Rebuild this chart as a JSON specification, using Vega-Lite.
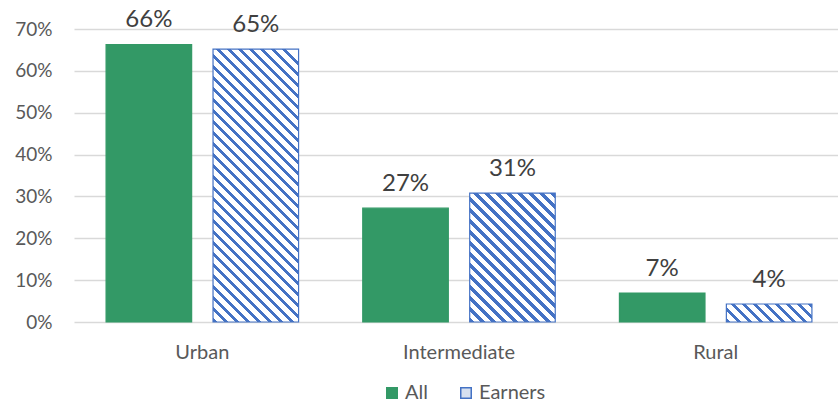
{
  "$schema": "https://vega.github.io/schema/vega-lite/v6.json",
  "width": 770,
  "height": 293,
  "autosize": {"type": "none"},
  "padding": {"left": 74, "top": 29, "right": 0, "bottom": 82},
  "config": {"view": {"stroke": null}, "font": "Lato"},
  "data": {
    "values": [
      {"region": "Urban", "series": "All", "value": 0.663},
      {"region": "Urban", "series": "Earners", "value": 0.652},
      {"region": "Intermediate", "series": "All", "value": 0.272},
      {"region": "Intermediate", "series": "Earners", "value": 0.308},
      {"region": "Rural", "series": "All", "value": 0.069},
      {"region": "Rural", "series": "Earners", "value": 0.043}
    ]
  },
  "encoding": {
    "x": {
      "field": "region", "type": "nominal",
      "scale": {"domain": ["Urban", "Intermediate", "Rural"], "paddingInner": 0.25, "paddingOuter": 0.125},
      "axis": {"title": null, "labelAngle": 0, "labelFont": "Lato", "labelFontSize": 20, "labelColor": "#595959", "labelPadding": 20, "ticks": false, "domain": false}
    },
    "xOffset": {
      "field": "series", "type": "nominal",
      "scale": {"domain": ["All", "Earners"], "paddingInner": 0.2, "paddingOuter": 0}
    },
    "y": {
      "field": "value", "type": "quantitative",
      "scale": {"domain": [0, 0.7], "nice": false, "zero": true},
      "axis": {"title": null, "format": ".0%", "values": [0, 0.1, 0.2, 0.3, 0.4, 0.5, 0.6, 0.7], "labelFont": "Lato", "labelFontSize": 19, "labelColor": "#595959", "labelPadding": 22, "ticks": false, "domain": false, "grid": true, "gridColor": "#d9d9d9", "gridWidth": 1.3}
    }
  },
  "layer": [
    {
      "mark": {"type": "bar", "strokeWidth": 1.2},
      "encoding": {
        "fill": {
          "field": "series", "type": "nominal",
          "scale": {"domain": ["All", "Earners"], "range": ["#339966", "#d6e0f0"]},
          "legend": {"orient": "none", "legendX": 308, "legendY": 354, "direction": "horizontal", "title": null, "symbolType": "square", "symbolSize": 110, "labelFont": "Lato", "labelFontSize": 20, "labelColor": "#595959", "columnPadding": 28, "labelOffset": 3},
          "condition": [
            {"test": "datum.series === 'Earners' && datum.region === 'Urban'", "value": {"gradient": "linear", "x1": 0, "y1": 1, "x2": 0.36817, "y2": -0.17444, "stops": [
              {"offset":0,"color":"#4472c4"},{"offset":0.013,"color":"#4472c4"},{"offset":0.013,"color":"#fff"},{"offset":0.03125,"color":"#fff"},
              {"offset":0.03125,"color":"#4472c4"},{"offset":0.04425,"color":"#4472c4"},{"offset":0.04425,"color":"#fff"},{"offset":0.0625,"color":"#fff"},
              {"offset":0.0625,"color":"#4472c4"},{"offset":0.0755,"color":"#4472c4"},{"offset":0.0755,"color":"#fff"},{"offset":0.09375,"color":"#fff"},
              {"offset":0.09375,"color":"#4472c4"},{"offset":0.10675,"color":"#4472c4"},{"offset":0.10675,"color":"#fff"},{"offset":0.125,"color":"#fff"},
              {"offset":0.125,"color":"#4472c4"},{"offset":0.138,"color":"#4472c4"},{"offset":0.138,"color":"#fff"},{"offset":0.15625,"color":"#fff"},
              {"offset":0.15625,"color":"#4472c4"},{"offset":0.16925,"color":"#4472c4"},{"offset":0.16925,"color":"#fff"},{"offset":0.1875,"color":"#fff"},
              {"offset":0.1875,"color":"#4472c4"},{"offset":0.2005,"color":"#4472c4"},{"offset":0.2005,"color":"#fff"},{"offset":0.21875,"color":"#fff"},
              {"offset":0.21875,"color":"#4472c4"},{"offset":0.23175,"color":"#4472c4"},{"offset":0.23175,"color":"#fff"},{"offset":0.25,"color":"#fff"},
              {"offset":0.25,"color":"#4472c4"},{"offset":0.263,"color":"#4472c4"},{"offset":0.263,"color":"#fff"},{"offset":0.28125,"color":"#fff"},
              {"offset":0.28125,"color":"#4472c4"},{"offset":0.29425,"color":"#4472c4"},{"offset":0.29425,"color":"#fff"},{"offset":0.3125,"color":"#fff"},
              {"offset":0.3125,"color":"#4472c4"},{"offset":0.3255,"color":"#4472c4"},{"offset":0.3255,"color":"#fff"},{"offset":0.34375,"color":"#fff"},
              {"offset":0.34375,"color":"#4472c4"},{"offset":0.35675,"color":"#4472c4"},{"offset":0.35675,"color":"#fff"},{"offset":0.375,"color":"#fff"},
              {"offset":0.375,"color":"#4472c4"},{"offset":0.388,"color":"#4472c4"},{"offset":0.388,"color":"#fff"},{"offset":0.40625,"color":"#fff"},
              {"offset":0.40625,"color":"#4472c4"},{"offset":0.41925,"color":"#4472c4"},{"offset":0.41925,"color":"#fff"},{"offset":0.4375,"color":"#fff"},
              {"offset":0.4375,"color":"#4472c4"},{"offset":0.4505,"color":"#4472c4"},{"offset":0.4505,"color":"#fff"},{"offset":0.46875,"color":"#fff"},
              {"offset":0.46875,"color":"#4472c4"},{"offset":0.48175,"color":"#4472c4"},{"offset":0.48175,"color":"#fff"},{"offset":0.5,"color":"#fff"},
              {"offset":0.5,"color":"#4472c4"},{"offset":0.513,"color":"#4472c4"},{"offset":0.513,"color":"#fff"},{"offset":0.53125,"color":"#fff"},
              {"offset":0.53125,"color":"#4472c4"},{"offset":0.54425,"color":"#4472c4"},{"offset":0.54425,"color":"#fff"},{"offset":0.5625,"color":"#fff"},
              {"offset":0.5625,"color":"#4472c4"},{"offset":0.5755,"color":"#4472c4"},{"offset":0.5755,"color":"#fff"},{"offset":0.59375,"color":"#fff"},
              {"offset":0.59375,"color":"#4472c4"},{"offset":0.60675,"color":"#4472c4"},{"offset":0.60675,"color":"#fff"},{"offset":0.625,"color":"#fff"},
              {"offset":0.625,"color":"#4472c4"},{"offset":0.638,"color":"#4472c4"},{"offset":0.638,"color":"#fff"},{"offset":0.65625,"color":"#fff"},
              {"offset":0.65625,"color":"#4472c4"},{"offset":0.66925,"color":"#4472c4"},{"offset":0.66925,"color":"#fff"},{"offset":0.6875,"color":"#fff"},
              {"offset":0.6875,"color":"#4472c4"},{"offset":0.7005,"color":"#4472c4"},{"offset":0.7005,"color":"#fff"},{"offset":0.71875,"color":"#fff"},
              {"offset":0.71875,"color":"#4472c4"},{"offset":0.73175,"color":"#4472c4"},{"offset":0.73175,"color":"#fff"},{"offset":0.75,"color":"#fff"},
              {"offset":0.75,"color":"#4472c4"},{"offset":0.763,"color":"#4472c4"},{"offset":0.763,"color":"#fff"},{"offset":0.78125,"color":"#fff"},
              {"offset":0.78125,"color":"#4472c4"},{"offset":0.79425,"color":"#4472c4"},{"offset":0.79425,"color":"#fff"},{"offset":0.8125,"color":"#fff"},
              {"offset":0.8125,"color":"#4472c4"},{"offset":0.8255,"color":"#4472c4"},{"offset":0.8255,"color":"#fff"},{"offset":0.84375,"color":"#fff"},
              {"offset":0.84375,"color":"#4472c4"},{"offset":0.85675,"color":"#4472c4"},{"offset":0.85675,"color":"#fff"},{"offset":0.875,"color":"#fff"},
              {"offset":0.875,"color":"#4472c4"},{"offset":0.888,"color":"#4472c4"},{"offset":0.888,"color":"#fff"},{"offset":0.90625,"color":"#fff"},
              {"offset":0.90625,"color":"#4472c4"},{"offset":0.91925,"color":"#4472c4"},{"offset":0.91925,"color":"#fff"},{"offset":0.9375,"color":"#fff"},
              {"offset":0.9375,"color":"#4472c4"},{"offset":0.9505,"color":"#4472c4"},{"offset":0.9505,"color":"#fff"},{"offset":0.96875,"color":"#fff"},
              {"offset":0.96875,"color":"#4472c4"},{"offset":0.98175,"color":"#4472c4"},{"offset":0.98175,"color":"#fff"},{"offset":1,"color":"#fff"}
            ]}},
            {"test": "datum.series === 'Earners' && datum.region === 'Intermediate'", "value": {"gradient": "linear", "x1": 0, "y1": 1, "x2": 1.2582, "y2": -0.89575, "stops": [
              {"offset":0,"color":"#4472c4"},{"offset":0.013,"color":"#4472c4"},{"offset":0.013,"color":"#fff"},{"offset":0.03125,"color":"#fff"},
              {"offset":0.03125,"color":"#4472c4"},{"offset":0.04425,"color":"#4472c4"},{"offset":0.04425,"color":"#fff"},{"offset":0.0625,"color":"#fff"},
              {"offset":0.0625,"color":"#4472c4"},{"offset":0.0755,"color":"#4472c4"},{"offset":0.0755,"color":"#fff"},{"offset":0.09375,"color":"#fff"},
              {"offset":0.09375,"color":"#4472c4"},{"offset":0.10675,"color":"#4472c4"},{"offset":0.10675,"color":"#fff"},{"offset":0.125,"color":"#fff"},
              {"offset":0.125,"color":"#4472c4"},{"offset":0.138,"color":"#4472c4"},{"offset":0.138,"color":"#fff"},{"offset":0.15625,"color":"#fff"},
              {"offset":0.15625,"color":"#4472c4"},{"offset":0.16925,"color":"#4472c4"},{"offset":0.16925,"color":"#fff"},{"offset":0.1875,"color":"#fff"},
              {"offset":0.1875,"color":"#4472c4"},{"offset":0.2005,"color":"#4472c4"},{"offset":0.2005,"color":"#fff"},{"offset":0.21875,"color":"#fff"},
              {"offset":0.21875,"color":"#4472c4"},{"offset":0.23175,"color":"#4472c4"},{"offset":0.23175,"color":"#fff"},{"offset":0.25,"color":"#fff"},
              {"offset":0.25,"color":"#4472c4"},{"offset":0.263,"color":"#4472c4"},{"offset":0.263,"color":"#fff"},{"offset":0.28125,"color":"#fff"},
              {"offset":0.28125,"color":"#4472c4"},{"offset":0.29425,"color":"#4472c4"},{"offset":0.29425,"color":"#fff"},{"offset":0.3125,"color":"#fff"},
              {"offset":0.3125,"color":"#4472c4"},{"offset":0.3255,"color":"#4472c4"},{"offset":0.3255,"color":"#fff"},{"offset":0.34375,"color":"#fff"},
              {"offset":0.34375,"color":"#4472c4"},{"offset":0.35675,"color":"#4472c4"},{"offset":0.35675,"color":"#fff"},{"offset":0.375,"color":"#fff"},
              {"offset":0.375,"color":"#4472c4"},{"offset":0.388,"color":"#4472c4"},{"offset":0.388,"color":"#fff"},{"offset":0.40625,"color":"#fff"},
              {"offset":0.40625,"color":"#4472c4"},{"offset":0.41925,"color":"#4472c4"},{"offset":0.41925,"color":"#fff"},{"offset":0.4375,"color":"#fff"},
              {"offset":0.4375,"color":"#4472c4"},{"offset":0.4505,"color":"#4472c4"},{"offset":0.4505,"color":"#fff"},{"offset":0.46875,"color":"#fff"},
              {"offset":0.46875,"color":"#4472c4"},{"offset":0.48175,"color":"#4472c4"},{"offset":0.48175,"color":"#fff"},{"offset":0.5,"color":"#fff"},
              {"offset":0.5,"color":"#4472c4"},{"offset":0.513,"color":"#4472c4"},{"offset":0.513,"color":"#fff"},{"offset":0.53125,"color":"#fff"},
              {"offset":0.53125,"color":"#4472c4"},{"offset":0.54425,"color":"#4472c4"},{"offset":0.54425,"color":"#fff"},{"offset":0.5625,"color":"#fff"},
              {"offset":0.5625,"color":"#4472c4"},{"offset":0.5755,"color":"#4472c4"},{"offset":0.5755,"color":"#fff"},{"offset":0.59375,"color":"#fff"},
              {"offset":0.59375,"color":"#4472c4"},{"offset":0.60675,"color":"#4472c4"},{"offset":0.60675,"color":"#fff"},{"offset":0.625,"color":"#fff"}
            ]}},
            {"test": "datum.series === 'Earners' && datum.region === 'Rural'", "value": {"gradient": "linear", "x1": 0, "y1": 1, "x2": 3.94013, "y2": 0.17098, "stops": [
              {"offset":0,"color":"#4472c4"},{"offset":0.013,"color":"#4472c4"},{"offset":0.013,"color":"#fff"},{"offset":0.03125,"color":"#fff"},
              {"offset":0.03125,"color":"#4472c4"},{"offset":0.04425,"color":"#4472c4"},{"offset":0.04425,"color":"#fff"},{"offset":0.0625,"color":"#fff"},
              {"offset":0.0625,"color":"#4472c4"},{"offset":0.0755,"color":"#4472c4"},{"offset":0.0755,"color":"#fff"},{"offset":0.09375,"color":"#fff"},
              {"offset":0.09375,"color":"#4472c4"},{"offset":0.10675,"color":"#4472c4"},{"offset":0.10675,"color":"#fff"},{"offset":0.125,"color":"#fff"},
              {"offset":0.125,"color":"#4472c4"},{"offset":0.138,"color":"#4472c4"},{"offset":0.138,"color":"#fff"},{"offset":0.15625,"color":"#fff"},
              {"offset":0.15625,"color":"#4472c4"},{"offset":0.16925,"color":"#4472c4"},{"offset":0.16925,"color":"#fff"},{"offset":0.1875,"color":"#fff"},
              {"offset":0.1875,"color":"#4472c4"},{"offset":0.2005,"color":"#4472c4"},{"offset":0.2005,"color":"#fff"},{"offset":0.21875,"color":"#fff"},
              {"offset":0.21875,"color":"#4472c4"},{"offset":0.23175,"color":"#4472c4"},{"offset":0.23175,"color":"#fff"},{"offset":0.25,"color":"#fff"},
              {"offset":0.25,"color":"#4472c4"},{"offset":0.263,"color":"#4472c4"},{"offset":0.263,"color":"#fff"},{"offset":0.28125,"color":"#fff"},
              {"offset":0.28125,"color":"#4472c4"},{"offset":0.29425,"color":"#4472c4"},{"offset":0.29425,"color":"#fff"},{"offset":0.3125,"color":"#fff"}
            ]}}
          ]
        },
        "stroke": {
          "field": "series", "type": "nominal",
          "scale": {"domain": ["All", "Earners"], "range": ["#339966", "#4472c4"]}
        }
      }
    },
    {
      "mark": {"type": "text", "baseline": "alphabetic", "dy": -17, "fontSize": 24, "font": "Lato", "color": "#404040"},
      "encoding": {
        "text": {"field": "value", "type": "quantitative", "format": ".0%"}
      }
    }
  ]
}
